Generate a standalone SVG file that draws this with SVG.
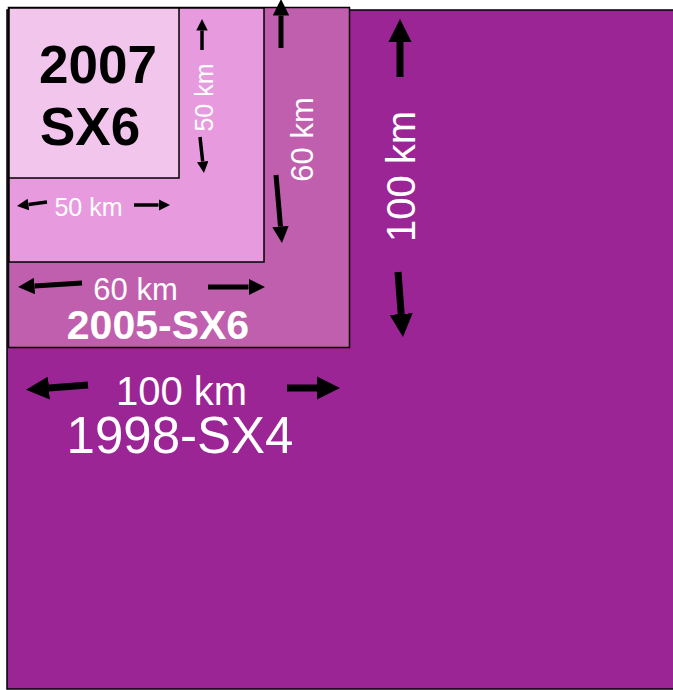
<svg xmlns="http://www.w3.org/2000/svg" width="673" height="690" viewBox="0 0 673 690">
<style>
.box{stroke:#000;stroke-width:1.5}
.w{fill:#fff;font-family:"Liberation Sans",Arial,sans-serif}
.b{fill:#000;font-family:"Liberation Sans",Arial,sans-serif;font-weight:bold}
.arr{stroke:#000;fill:none;marker-end:url(#ah)}
</style>
<defs>
<marker id="ah" viewBox="0 0 10 10" refX="0" refY="5" markerWidth="3.3" markerHeight="3.3" orient="auto" markerUnits="strokeWidth">
<path d="M0,0 L10,5 L0,10 z" fill="#000"/>
</marker>
</defs>
<rect width="673" height="690" fill="#fff"/>
<g id="n1998">
<rect class="box" x="7" y="10" width="680" height="679" fill="#9B2595" stroke-width="2"/>
<text class="w" x="181.5" y="405" font-size="40" text-anchor="middle">100 km</text>
<text class="w" x="180" y="453" font-size="51" text-anchor="middle">1998-SX4</text>
<text class="w" transform="translate(415,176.5) rotate(-90)" font-size="40" text-anchor="middle">100 km</text>
</g>
<g id="n2005">
<rect class="box" x="8.5" y="7.5" width="341" height="340" fill="#C05FAD"/>
<text class="w" x="135.5" y="300" font-size="31" text-anchor="middle">60 km</text>
<text class="w" x="158" y="339" font-size="41" font-weight="bold" text-anchor="middle">2005-SX6</text>
<text class="w" transform="translate(313,139.5) rotate(-90)" font-size="31" text-anchor="middle">60 km</text>
</g>
<g id="n50">
<rect class="box" x="9" y="8" width="255" height="254" fill="#E89ADF"/>
<text class="w" x="88.5" y="216" font-size="25" text-anchor="middle">50 km</text>
<text class="w" transform="translate(213,97.5) rotate(-90)" font-size="25" text-anchor="middle">50 km</text>
</g>
<g id="n2007">
<rect class="box" x="9" y="8" width="170" height="170" fill="#F2C5EC"/>
<text class="b" x="39" y="83" font-size="53">2007</text>
<text class="b" x="40" y="145" font-size="53">SX6</text>
</g>
<g id="connectors">
<line class="arr" stroke-width="7" x1="88" y1="385" x2="49" y2="388"/>
<line class="arr" stroke-width="7" x1="287" y1="388" x2="317" y2="388"/>
<line class="arr" stroke-width="7" x1="400" y1="77" x2="400" y2="42"/>
<line class="arr" stroke-width="7" x1="398" y1="272" x2="401.2" y2="314"/>
<line class="arr" stroke-width="5" x1="82" y1="283" x2="34.5" y2="286"/>
<line class="arr" stroke-width="5" x1="208" y1="287" x2="248.5" y2="287"/>
<line class="arr" stroke-width="5" x1="281" y1="48" x2="281" y2="15.5"/>
<line class="arr" stroke-width="5" x1="276" y1="175" x2="280.5" y2="226.5"/>
<line class="arr" stroke-width="3.5" x1="47" y1="202" x2="28.4" y2="204.5"/>
<line class="arr" stroke-width="3.5" x1="134" y1="205" x2="158.5" y2="205"/>
<line class="arr" stroke-width="3.5" x1="202" y1="50" x2="202" y2="30.5"/>
<line class="arr" stroke-width="3.5" x1="200" y1="137" x2="202.7" y2="161.6"/>
</g>
</svg>
